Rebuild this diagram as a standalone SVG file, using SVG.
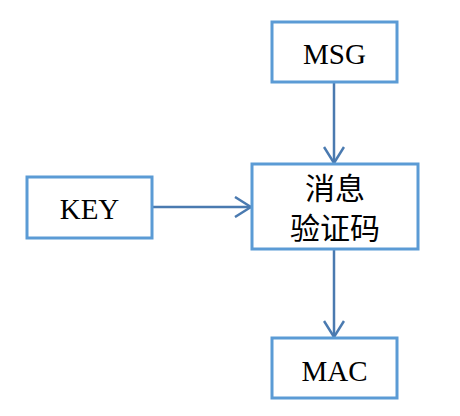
<svg xmlns="http://www.w3.org/2000/svg" width="460" height="416" viewBox="0 0 460 416">
<defs>
<style>
.box{fill:#fff;stroke:#5b9bd5;stroke-width:3}
.lbl{font-family:"Liberation Serif","DejaVu Serif",serif;font-size:29px;fill:#000;text-anchor:middle}
.cjk{font-family:"Noto Sans CJK SC","Noto Sans CJK JP",sans-serif;font-size:30px;fill:#000;text-anchor:middle}
.conn{stroke:#4a7ab0;stroke-width:2.5;fill:none}
</style>
<marker id="arr" viewBox="0 0 18 22" refX="17" refY="11" markerWidth="18" markerHeight="22" markerUnits="userSpaceOnUse" orient="auto">
<path d="M1,1 L17,11 L1,21" fill="none" stroke="#4a7ab0" stroke-width="2.5"/>
</marker>
</defs>
<rect width="460" height="416" fill="#fff"/>
<g id="connectors">
<line class="conn" x1="334" y1="82" x2="334" y2="163" marker-end="url(#arr)"/>
<line class="conn" x1="152" y1="207" x2="251" y2="207" marker-end="url(#arr)"/>
<line class="conn" x1="334" y1="249" x2="334" y2="337" marker-end="url(#arr)"/>
</g>
<g id="msg">
<rect class="box" x="272" y="22" width="125" height="60"/>
<text class="lbl" x="334.5" y="64">MSG</text>
</g>
<g id="key">
<rect class="box" x="27" y="177" width="125" height="61"/>
<text class="lbl" x="89.5" y="219">KEY</text>
</g>
<g id="mac-node">
<rect class="box" x="252" y="164" width="166" height="85"/>
<text class="cjk" x="335" y="199">消息</text>
<text class="cjk" x="335" y="239">验证码</text>
</g>
<g id="mac">
<rect class="box" x="272" y="338" width="125" height="60"/>
<text class="lbl" x="334.5" y="381">MAC</text>
</g>
</svg>
